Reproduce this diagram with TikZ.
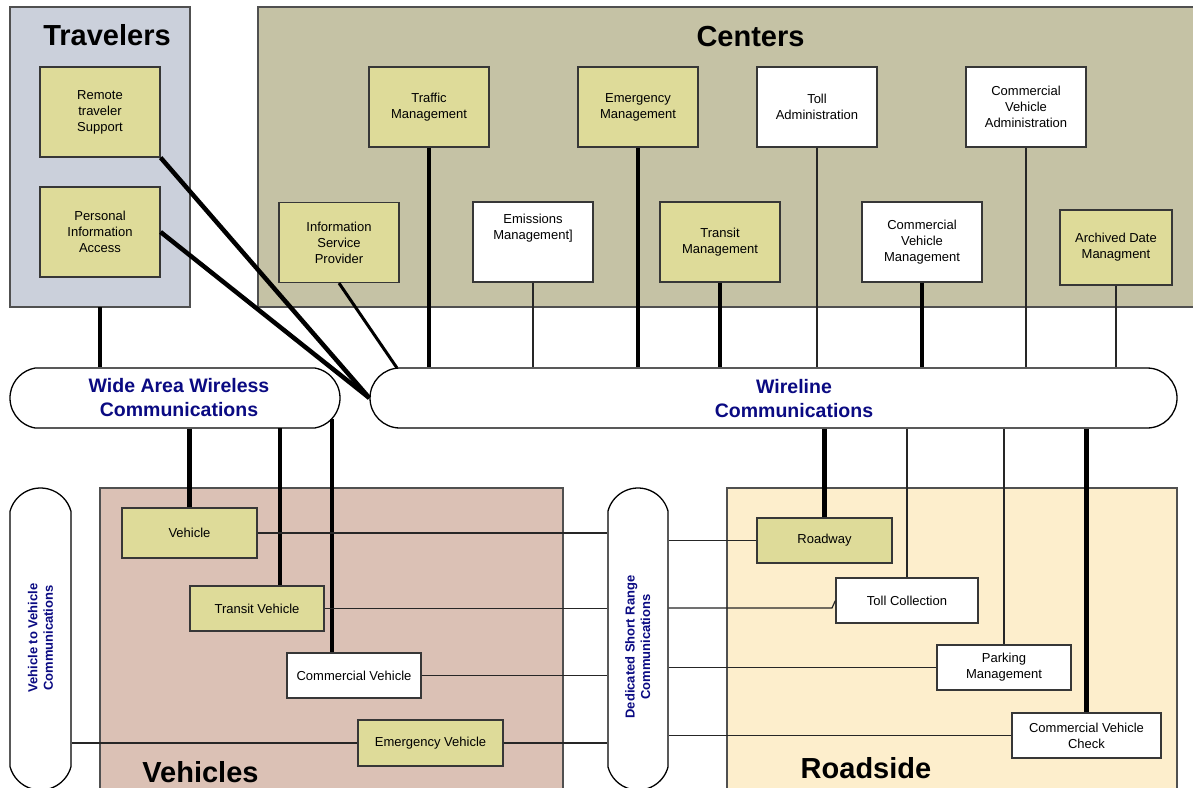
\documentclass[tikz,border=0pt]{standalone}
\usepackage{fontspec}
\setmainfont{Liberation Sans}
\usetikzlibrary{shapes.misc}
\definecolor{travfill}{RGB}{203,208,219}
\definecolor{centfill}{RGB}{197,194,165}
\definecolor{yel}{RGB}{222,219,153}
\definecolor{vehfill}{RGB}{219,193,181}
\definecolor{roadfill}{RGB}{253,238,204}
\definecolor{navytext}{RGB}{10,10,130}
\definecolor{boxline}{RGB}{55,55,55}
\definecolor{regline}{RGB}{80,80,80}
\begin{document}
\begin{tikzpicture}[x=1pt,y=-1pt,
  box/.style={draw=boxline, line width=1.2pt, inner sep=0pt, align=center,
    font=\fontsize{13}{16}\selectfont, minimum width=120pt, minimum height=80pt},
  ybox/.style={box, fill=yel},
  wbox/.style={box, fill=white},
  region/.style={draw=regline, line width=1.2pt},
  pill/.style={rounded rectangle, draw=black, line width=1.3pt, fill=white, inner sep=0pt},
  heavy/.style={line width=4.5pt, draw=black},
  medium/.style={line width=3pt, draw=black},
  wire/.style={line width=1.2pt, draw=black!85},
  title/.style={font=\fontsize{29}{34}\selectfont\bfseries, anchor=base},
  pilltext/.style={text=navytext, font=\fontsize{19.5}{24}\selectfont\bfseries, align=center, inner sep=0pt},
  vtext/.style={text=navytext, font=\fontsize{13}{15.5}\selectfont\bfseries, align=center, inner sep=0pt}
]
\useasboundingbox (0,0) rectangle (1193,787);
\clip (0,0) rectangle (1193,787);

% regions
\fill[white] (0,0) rectangle (1193,787);
\draw[region, fill=travfill] (10,7) rectangle (190,307);
\draw[region, fill=centfill] (258,7) rectangle (1210,307);
\draw[region, fill=vehfill] (100,488) rectangle (563,800);
\draw[region, fill=roadfill] (727,488) rectangle (1177,800);

\node[title] (ttrav) at (107,45) {Travelers};
\node[title] (tcent) at (750.5,46) {Centers};
\node[title] (tveh) at (200.5,782) {Vehicles};
\node[title] (troad) at (866,778) {Roadside};

% pills
\node[pill, minimum width=330pt, minimum height=60pt, rounded rectangle arc length=160] (wa) at (175,398) {};
\node[pill, minimum width=807pt, minimum height=60pt, rounded rectangle arc length=180] (wl) at (773.5,398) {};
\node[pill, minimum width=302pt, minimum height=61pt, rounded rectangle arc length=150, rotate=90] (v2v) at (40.5,639) {};
\node[pill, minimum width=302pt, minimum height=60pt, rounded rectangle arc length=150, rotate=90] (dsrc) at (638,639) {};

\node[pilltext] (watext) at (179,398) {Wide Area Wireless\\Communications};
\node[pilltext] (wltext) at (794,399) {Wireline\\Communications};
\node[vtext, rotate=90] (v2vtext) at (40.5,638) {Vehicle to Vehicle\\Communications};
\node[vtext, rotate=90] (dsrctext) at (637.7,647) {Dedicated Short Range\\Communications};

% travelers boxes
\node[ybox, minimum height=90pt] (rts) at (100,112) {Remote\\traveler\\Support};
\node[ybox, minimum height=90pt] (pia) at (100,232) {Personal\\Information\\Access};

% centers boxes
\node[ybox] (isp) at (339,242.5) {Information\\Service\\Provider};
\node[ybox] (tm) at (429,107) {Traffic\\Management};
\node[wbox] (emis) at (533,242) {};
\node[font=\fontsize{13}{16}\selectfont, align=center, inner sep=0pt] (emistext) at (533,228) {Emissions\\Management]};
\node[ybox] (emg) at (638,107) {Emergency\\Management};
\node[ybox] (trm) at (720,242) {Transit\\Management};
\node[wbox] (ta) at (817,107) {Toll\\Administration};
\node[wbox] (cvm) at (922,242) {Commercial\\Vehicle\\Management};
\node[wbox] (cva) at (1026,107) {Commercial\\Vehicle\\Administration};
\node[ybox, minimum width=112pt, minimum height=75pt] (adm) at (1116,247.5) {Archived Date\\Managment};

% vehicles boxes
\node[ybox, minimum width=135pt, minimum height=50pt] (veh) at (189.5,533) {Vehicle};
\node[ybox, minimum width=134pt, minimum height=45pt] (tv) at (257,608.5) {Transit Vehicle};
\node[wbox, minimum width=134pt, minimum height=45pt] (cv) at (354,675.5) {Commercial Vehicle};
\node[ybox, minimum width=145pt, minimum height=46pt] (ev) at (430.5,743) {Emergency Vehicle};

% roadside boxes
\node[ybox, minimum width=135pt, minimum height=45pt] (rw) at (824.5,540.5) {Roadway};
\node[wbox, minimum width=142pt, minimum height=45pt] (tc) at (907,600.5) {Toll Collection};
\node[wbox, minimum width=134pt, minimum height=45pt] (pm) at (1004,667.5) {Parking\\Management};
\node[wbox, minimum width=149pt, minimum height=45pt] (cvc) at (1086.5,735.5) {Commercial Vehicle\\Check};

% helper coordinates
\coordinate (ispend) at (397,368);
\coordinate (tvtop) at (280,428);
\coordinate (cvtop) at (332,419);
\coordinate (tcbend) at (832,608);

% connectors: travelers
\draw[heavy] (rts.south east) -- (wl.west);
\draw[heavy] (pia.east) -- (wl.west);
\draw[heavy] (100,307) -- (100,307 |- wa.north);
\draw[medium] (isp.south) -- (ispend);

% centers to wireline
\draw[heavy] (tm.south) -- (tm.south |- wl.north);
\draw[wire] (emis.south) -- (emis.south |- wl.north);
\draw[heavy] (emg.south) -- (emg.south |- wl.north);
\draw[heavy] (trm.south) -- (trm.south |- wl.north);
\draw[wire] (ta.south) -- (ta.south |- wl.north);
\draw[heavy] (cvm.south) -- (cvm.south |- wl.north);
\draw[wire] (cva.south) -- (cva.south |- wl.north);
\draw[wire] (adm.south) -- (adm.south |- wl.north);

% wide area to vehicles
\draw[heavy] (veh.north |- wa.south) -- (veh.north);
\draw[heavy] (tvtop) -- (tvtop |- tv.north);
\draw[heavy] (cvtop) -- (cvtop |- cv.north);

% wireline to roadside
\draw[heavy] (rw.north |- wl.south) -- (rw.north);
\draw[wire] (tc.north |- wl.south) -- (tc.north);
\draw[wire] (pm.north |- wl.south) -- (pm.north);
\draw[heavy] (cvc.north |- wl.south) -- (cvc.north);

% vehicles to DSRC
\draw[wire] (veh.east) -- (veh.east -| dsrc.north);
\draw[wire] (tv.east) -- (tv.east -| dsrc.north);
\draw[wire] (cv.east) -- (cv.east -| dsrc.north);
\draw[wire] (ev.east) -- (ev.east -| dsrc.north);
\draw[wire] (ev.west -| v2v.south) -- (ev.west);

% DSRC to roadside
\draw[wire] (rw.west -| dsrc.south) -- (rw.west);
\draw[wire] (tcbend -| dsrc.south) -- (tcbend) -- (tc.west);
\draw[wire] (pm.west -| dsrc.south) -- (pm.west);
\draw[wire] (cvc.west -| dsrc.south) -- (cvc.west);
\end{tikzpicture}
\end{document}
